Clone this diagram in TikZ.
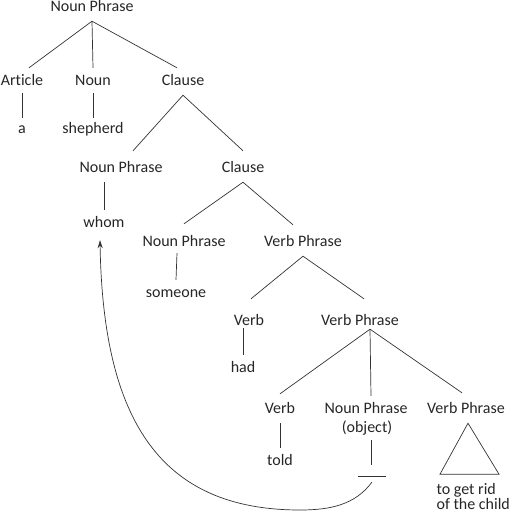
\documentclass[tikz,border=0pt]{standalone}
\usepackage{fontspec}
\setmainfont{Carlito}[Ligatures=NoCommon]
\usetikzlibrary{arrows.meta}
\begin{document}
\begin{tikzpicture}[x=1pt,y=-1pt,
  lbl/.style={anchor=base, font=\fontsize{16}{18}\selectfont, text height=10pt, text depth=3pt, inner xsep=0pt, inner ysep=7pt, text=black!85},
  leaf/.style={anchor=base west, font=\fontsize{16}{18}\selectfont, inner sep=0pt, text=black!85},
  br/.style={draw=black!80, line width=0.7pt},
]
\useasboundingbox (0,0) rectangle (511,514);
\node[lbl] (np1) at (92,11) {Noun Phrase};
\node[lbl] (art) at (22,85) {Article};
\node[lbl] (noun) at (93,85) {Noun};
\node[lbl] (cl1) at (183,85) {Clause};
\node[lbl] (a) at (22,133) {a};
\node[lbl] (shep) at (93,133) {shepherd};
\node[lbl] (np2) at (121,172) {Noun Phrase};
\node[lbl] (cl2) at (243,172) {Clause};
\node[lbl] (whom) at (104,227) {whom};
\node[lbl] (np3) at (184,246) {Noun Phrase};
\node[lbl] (vp1) at (303,246) {Verb Phrase};
\node[lbl] (some) at (176,297) {someone};
\node[lbl] (verb1) at (249,325) {Verb};
\node[lbl] (vp2) at (360,325) {Verb Phrase};
\node[lbl] (had) at (243,372) {had};
\node[lbl] (verb2) at (280,413) {Verb};
\node[lbl] (np4) at (366,413) {Noun Phrase};
\node[lbl] (obj) at (367,432) {(object)};
\node[lbl] (vp3) at (466,413) {Verb Phrase};
\node[lbl] (told) at (280,465) {told};
\node[leaf] (ch1) at (436.5,494) {to get rid};
\node[leaf] (ch2) at (436.5,509.5) {of the child};
\node[inner sep=0pt, minimum width=28pt, minimum height=0.7pt, fill=black!80] (trace) at (372,476) {};

\draw[br] (np1.south) -- ([xshift=7pt]art.north);
\draw[br] (np1.south) -- (noun.north);
\draw[br] (np1.south) -- ([xshift=-6pt]cl1.north);
\draw[br] ([yshift=2pt]art.south) -- ([yshift=-2pt]a.north);
\draw[br] ([yshift=2pt]noun.south) -- ([yshift=-2pt]shep.north);
\draw[br] (cl1.south) -- ([xshift=12pt,yshift=4pt]np2.north);
\draw[br] (cl1.south) -- ([yshift=4pt]cl2.north);
\draw[br] ([xshift=-17pt]np2.south) -- (whom.north);
\draw[br] (cl2.south) -- ([yshift=5pt]np3.north);
\draw[br] (cl2.south) -- ([xshift=-10pt,yshift=4pt]vp1.north);
\draw[br] ([xshift=-7pt,yshift=3pt]np3.south) -- (some.north);
\draw[br] (vp1.south) -- ([xshift=2pt,yshift=9pt]verb1.north);
\draw[br] (vp1.south) -- ([xshift=4pt,yshift=9pt]vp2.north);
\draw[br] ([xshift=-6pt,yshift=7pt]verb1.south) -- (had.north);
\draw[br] ([xshift=10pt,yshift=6pt]vp2.south) -- ([yshift=2pt]verb2.north);
\draw[br] ([xshift=10pt,yshift=6pt]vp2.south) -- ([xshift=5pt]np4.north);
\draw[br] ([xshift=10pt,yshift=6pt]vp2.south) -- ([xshift=-4pt,yshift=3pt]vp3.north);
\draw[br] (verb2.south) -- (told.north);
\draw[br] ([xshift=4pt,yshift=2pt]obj.south) -- ([xshift=-1pt,yshift=10.5pt]trace.north);
\draw[br] ([xshift=2pt]vp3.south) -- ++(-28,51) -- ++(59,0) -- cycle;
\coordinate (bend) at (300,510);
\draw[br,-{Stealth[length=8pt,width=5pt]}] ([yshift=-5.5pt]trace.south) .. controls (355,505) and (330,510) .. (bend) .. controls (160,510) and (103,420) .. ([xshift=-4pt,yshift=-3pt]whom.south);
\end{tikzpicture}
\end{document}
